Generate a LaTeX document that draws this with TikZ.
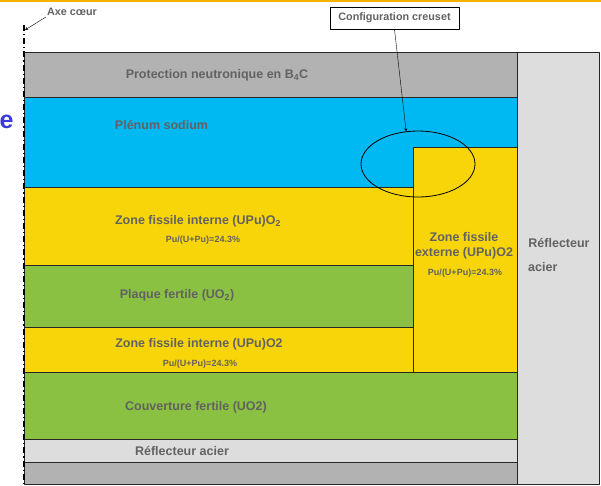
\documentclass[tikz,border=0pt]{standalone}
\usepackage{fontspec}
\setmainfont{Liberation Sans}
\usetikzlibrary{shapes.geometric}
\definecolor{protec}{HTML}{B2B2B2}
\definecolor{plenum}{HTML}{00B9F2}
\definecolor{fissile}{HTML}{F8D508}
\definecolor{fertile}{HTML}{8AC142}
\definecolor{reflec}{HTML}{DDDDDD}
\definecolor{txtgray}{HTML}{626262}
\definecolor{titleblue}{HTML}{3B3BD9}
\definecolor{barorange}{HTML}{F7B000}
\begin{document}
\begin{tikzpicture}[x=1pt,y=-1pt,line join=round,>=stealth,
  zone/.style={draw=black!85,line width=1pt},
  lbl/.style={text=txtgray,inner sep=0pt,font=\fontsize{12.5}{15}\selectfont\bfseries},
  pu/.style={text=txtgray,inner sep=0pt,font=\fontsize{9}{11}\selectfont\bfseries},
  note/.style={text=txtgray,inner sep=1pt,font=\fontsize{10.8}{13}\selectfont\bfseries}]
\def\xg{24} \def\xm{413} \def\xr{517} \def\xe{599}
\useasboundingbox (0,0) rectangle (601,485);
\fill[barorange] (0,0) rectangle (601,1.5);
\node[inner sep=0pt,text=titleblue,font=\fontsize{25}{25}\selectfont\bfseries] (ttl) at (6.5,121.5) {e};
% couches axiales
\foreach \ya/\yb/\c in {52/97/protec,97/187/plenum,372/439/fertile,439/462/reflec,462/484/protec}
  \filldraw[zone,fill=\c] (\xg,\ya) rectangle (\xr,\yb);
\foreach \ya/\yb/\c in {187/265/fissile,265/327/fertile,327/372/fissile}
  \filldraw[zone,fill=\c] (\xg,\ya) rectangle (\xm,\yb);
\filldraw[zone,fill=fissile] (\xm,147) rectangle (\xr,372);
\filldraw[zone,fill=reflec] (\xr,52) rectangle (\xe,484);
% axe
\draw[line width=2pt,dash pattern=on 6pt off 3pt on 1.2pt off 3pt] (\xg,25) -- (\xg,485);
\coordinate (axtop) at (25,30);
\node[note] (axe) at (72,12) {Axe cœur};
\draw[->] (axe.south west) -- (axtop);
% textes
\node[lbl] (prot) at (217,75) {Protection neutronique en B\textsubscript{4}C};
\node[lbl] (plen) at (161.5,125) {Plénum sodium};
\node[lbl] (zfi1) at (198,221.5) {Zone fissile interne (UPu)O\textsubscript{2}};
\node[pu] (pu1) at (203,240) {Pu/(U+Pu)=24.3\%};
\node[lbl] (plaq) at (177,295) {Plaque fertile (UO\textsubscript{2})};
\node[lbl] (zfi2) at (199,344) {Zone fissile interne (UPu)O2};
\node[pu] (pu2) at (200,364) {Pu/(U+Pu)=24.3\%};
\node[lbl] (couv) at (196,407) {Couverture fertile (UO2)};
\node[lbl] (refb) at (182,451) {Réflecteur acier};
\node[lbl] (zfe1) at (464,237) {Zone fissile};
\node[lbl] (zfe2) at (464,253.5) {externe (UPu)O2};
\node[pu] (pu3) at (465,273) {Pu/(U+Pu)=24.3\%};
\node[lbl] (refr) at (559,243) {Réflecteur};
\node[lbl,anchor=west] (refa) at (528,267) {acier};
% creuset
\node[ellipse,draw,line width=0.8pt,minimum width=114pt,minimum height=66pt,inner sep=0pt] (ell) at (418,164) {};
\node[note,draw,line width=0.8pt,minimum width=129pt,minimum height=22pt] (conf) at (394.5,18) {Configuration creuset};
\draw[->] (conf.south) -- (ell.110);
\end{tikzpicture}
\end{document}
